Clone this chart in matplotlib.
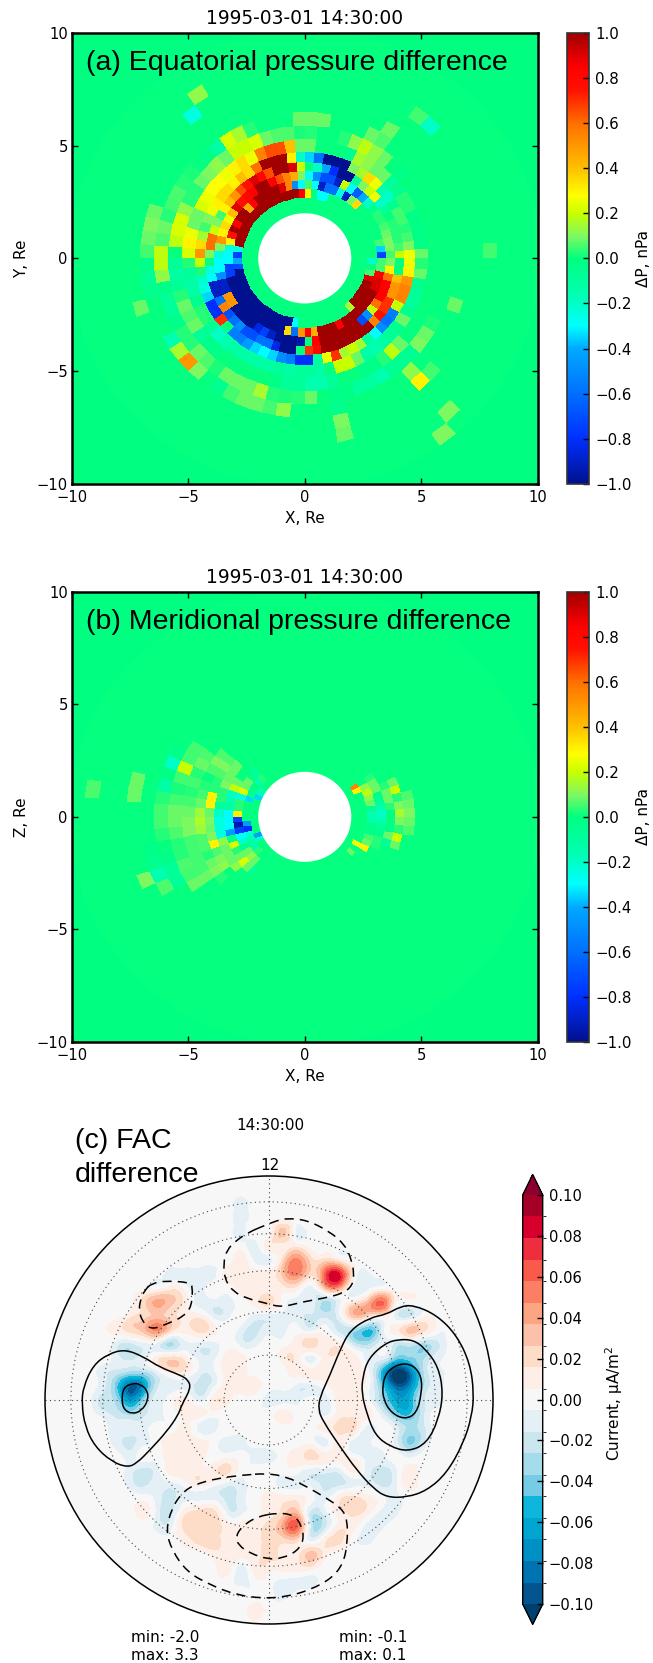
import numpy as np
import matplotlib
matplotlib.use('Agg')
import matplotlib.pyplot as plt
from matplotlib.colors import LinearSegmentedColormap, ListedColormap, BoundaryNorm, Normalize
from matplotlib.patches import Circle, PathPatch
from matplotlib.path import Path
from matplotlib.tri import Triangulation, UniformTriRefiner

W, H = 653, 1663
plt.rcParams['font.family'] = ['DejaVu Sans']
plt.rcParams['mathtext.default'] = 'regular'

stamp = '1995-03-01 14:30:00'
ticks_xy = [-10, -5, 0, 5, 10]
ticks_dp = [1.0, 0.8, 0.6, 0.4, 0.2, 0.0, -0.2, -0.4, -0.6, -0.8, -1.0]
ticks_fac = [0.10, 0.08, 0.06, 0.04, 0.02, 0.00, -0.02, -0.04, -0.06, -0.08, -0.10]

# radial bin edges in Re, sectors are 5 deg wide, angle from +X counter clockwise
r_edges = [2.0, 2.35, 2.7, 3.1, 3.5, 3.9, 4.3, 4.75, 5.3, 5.9, 6.5, 7.1, 7.7, 8.3, 8.9, 9.5, 10.1]

# (a) each ring: (first sector angle, [values of consecutive sectors]), nPa
eq_ring0 = [(70, [-.3, -.3, 0, .3, .85] + [1] * 15 + [-.25, -.75, -.4, -.7] + [-1] * 14 + [-.3]),
            (310, [.15] + [1] * 5 + [.9, .05, 0, -.2])]
eq_ring1 = [(0, [-.75, -.35, .05, 0, 0, 0, 0, 0, 0, .35, .1, -.9, -.25, -.6, -.6, -.9, -.3, .05, -.3, -.5,
                 .55, .9, 1, 1, 1, 1, .85, .45, 1, 1, .85, 1, .75, .3, -.25, -.3, -.3, -.75, -.75]
             + [-1] * 12 + [.35, -.6, .5, .85, .45, 1, 1, 1, .85] + [1] * 7 + [.9, .9, .85, .05, .05])]
eq_ring2 = [(0, [.05, .1, .1, .08, .05, .03, .03, -.05, -.2, -.4, -.65, -.3, .2, -.9, -.7, -.7, -.5, -.3, .1, .45,
                 .55, .65, .85, 1, 1, .85, .8, .75, .9, .4, .25, .35, .3, .5, .1, -.25, -.3, -.3, -.5, -.9, -.9,
                 .5, .5, -1, -1, -1, -1, -.85, -.75, -.9, -1, -1, -1, -.95, 0, .85, 1, 1, 1, 1, 1, 1, -.7, -.5,
                 .2, .6, .85, .85, .85, .6, .3, .1])]
eq_ring3 = [(0, [.2, .05, .03, .03, .03, 0, -.1, -.2, .25, .2, .1, -.1, -1, -1, -.8, -.4, -.2, 0, .2, .9, 1, 1,
                 .65, .8, .9, .75, .65, .5, .4, .3, .05, .1, .2, .6, .6, .1, 0, -.25, -.3, -.9, -.9, -.6, .55,
                 -.7, -.6, -.5, -.7, -.7, -.6, -.6, -.85, -1, -1, 0, .7, .8, 1, 1, 1, 1, 1, 1, 1, .55, .75, .7, .7,
                 .5, .5, .4])]
eq_ring4 = [(0, [.25, .1, .05, .03, .05, .05, -.05, -.2, -.15, .25, .35, .15, .1, -1, -1, -1, -.6, -.35, -.2, .3,
                 1, 1, 1, .6, .35, .4, .3, .35, .35, .3, .25, .1, .05, .15, .35, .5, .2, .02, -.2, -.25, -.35,
                 -.8, -.8, .7, .0, -.55, -.55, -.45, -.35, -.3, -.35, -.5, -.55, -.8, -.8, -.1, .25, .7, .15, .2,
                 .15, -.1, -.3, -.5, -.6, -.55, .2, .55, .55, .5, .3, .25])]
eq_ring5 = [(0, [.08, -.02, -.02, -.02, -.02, .03, .03, -.05, -.08, .08, .08, .12, .15, -.05, 0, 0, 0, .08, .08, .4,
                 .65, .65, .55, .25, .35, .3, .25, .28, .28, .25, .22, .08, .08, .25, .3, .22, .03, -.08, -.12, -.12,
                 -.05, .03, .03, -.08, -.2, -.15, -.12, -.12, -.12, -.12, -.12, -.08, -.12, -.08, -.08, -.12, 0, .2, .2,
                 .08, -.12, -.15, -.12, -.08, -.05, .08, -.05, -.08, -.08, -.05, .08, .03])]
eq_ring6 = [(40, [-.02, 0, .08, .12, .18, .12, .03, 0, 0, .03, .02, .06, .06, .08, .22, .2, .2, .08, .12, .1, .08,
                  .03, .03, .12, .22, .22, .18, 0, -.08, -.12, -.08, .03, .08, .06, .08, -.08, -.03, -.03, 0, 0, 0, 0, 0,
                  -.03, -.08, -.08, -.15, -.15, -.08, 0, 0, -.03, -.03, .03, .18, .08])]
eq_ring7 = [(55, [.06, .08, 0, 0, 0, .08, .08, .08, 0, 0, 0, .03, .15, .22, -.12, -.03, 0, .02, .03, .06, .05, .03, .08,
                  .06, .18, .18, .12, -.03, -.08, -.08, -.03, .03, .03, .08, .06, .02, .08, .08, .08, .15, .03, .02, .03,
                  .08, 0, -.03, -.03, -.1, -.1, -.15, -.06, -.06, -.06, .1, .08, .02])]
eq_ring8 = [(55, [.08]), (160, [.08, .1, .08, .05, -.03, -.06, -.05, 0, 0, 0, -.15, .15, .5, .1, 0, -.05, .05, .08, .08, .05, .12,
                  0, 0, 0, -.05]), (310, [.12]), (340, [.08])]
eq_ring9 = [(195, [.08]), (280, [.1]), (310, [.3, .05])]
eq_ring10 = [(45, [-.2, .05]), (125, [-.25]), (280, [.08]), (0, [.05])]
eq_ring11 = [(120, [.12])]
eq_ring12 = [(310, [.1])]
eq_ring13 = [(305, [.1])]
eq_rings = [[], [], eq_ring0, eq_ring1, eq_ring2, eq_ring3, eq_ring4, eq_ring5, eq_ring6, eq_ring7, eq_ring8,
            eq_ring9, eq_ring10, eq_ring11, eq_ring12, eq_ring13]

# (b) same format, X-Z plane
mer_in0 = [(145, [-.15, -.15, -.35]), (200, [-.45, -.2])]
mer_in1 = [(30, [.55]), (25, [.3]), (135, [.03, -.15, 0, -.05, -.05, -.35]), (185, [-.45, -.8, -.25, -.15, -.12, -.12, .03]),
           (320, [.08, 0, .25])]
mer_ring0 = [(135, [-.08, -.05, .08, .08, .22, -.25, .03, .03, .3, -.75, -.95, -.75, -.3, -.2, -.05, .08, .12, .08]),
             (330, [.3, .08, .05, -.03, -.03, -.15, -.15, -.08, .08, .12, .18, .12])]
mer_ring1 = [(150, [.08, .18, -.2, -.15, -.12, -.3, -.3, -.3, -.45, -.05, .22, .03, .08, .22, .08, -.08]),
             (335, [.03, .03, -.03, -.08, -.15, -.2, -.15, -.08, -.03, .08, .08, .03])]
mer_ring2 = [(140, [.08, .08, .08, .1, .03, .03, -.08, -.2, -.25, -.25, -.25, .12, .08, .08, .08, .12]),
             (340, [-.08, .08, -.03, 0, -.03, .03, .08, .08, .03])]
mer_ring3 = [(140, [.06, .1, .06, .03, .03, .3, .3, .08, .1, .08, .1, .3, .06, .1, .12]),
             (340, [.08, .2, .03, .1, .15, .1, .03, .2, .08])]
mer_ring4 = [(140, [.06, .1, .06, 0, .03, .05, .08, .14, .16, .14, .06, .06, .03, .08, .1, .03]),
             (350, [.06, .08, .1, .08, .06])]
mer_ring5 = [(145, [.06, .08, .03, .05, .03, .05, .08, .1, .1, .05, .05, .05, .05, .08])]
mer_ring6 = [(145, [.05, .05, .2, .05, .02, .05, .08, .08, .06, .03, .03, .06, .05, .08])]
mer_ring7 = [(150, [-.03, -.2, -.02, -.12, .03, .05, .05, .03, 0, -.03, -.08, -.08])]
mer_ring8 = [(190, [-.02, -.05, -.15, .06])]
mer_ring9 = [(165, [.08, .08]), (200, [.1])]
mer_ring12 = [(170, [.06])]
mer_rings = [mer_in0, mer_in1, mer_ring0, mer_ring1, mer_ring2, mer_ring3, mer_ring4, mer_ring5, mer_ring6, mer_ring7,
             mer_ring8, mer_ring9, [], [], mer_ring12, []]

# (c) FAC difference read on a unit grid, rows are (row, first column, [values in 0.01 uA/m2])
fac_rows = [
    (14, -2, [-1]),
    (13, -2, [-1]),
    (12, -2, [-1, 0, 0, 3, -1]),
    (11, -1, [-1, 1, 1, 1]),
    (10, -2, [1, -1, -1, 2, 5, 2, 2, 1]),
    (9, -7, [-1, -1, -1, -1, 1, 1, 1, 1, 3, 5, 2, 6, 8, 1, -1]),
    (8, -7, [1, 0, -1, 0, 0, 1, 1, 1, 1, 1, -1, 3, 4, -1, -1]),
    (7, -9, [2, 4, 3, 1, -1, -1, -1, 0, 1, 2, 0, -1, -1, -3, -1, 1, 3, 6, 1]),
    (6, -10, [1, 2, 3, 2, 1, 1, -1, -1, 0, -1, -1, -1, -1, -2, -2, -1, 3, 2, 1, -1, -2]),
    (5, -11, [1, 2, 3, 5, 2, 1, 2, 1, 0, -1, -2, -1, -1, 0, -1, 0, -2, -3, -5, -2, 1, 3, 2]),
    (4, -11, [-1, -2, -1, -1, -3, -1, -1, -1, 0, -1, -1, 0, 0, 1, 2, 1, 1, -2, -3, -1, -2, -2, -3, -2]),
    (3, -11, [-1, -2, -1, 1, 2, 1, -1, -1, 1, 1, 0, 0, 1, 1, -1, 1, 1, 1, -1, -1, -4, -4, -3, -1]),
    (2, -12, [-1, -2, -3, -3, -1, 1, 1, -1, -1, 1, 1, 0, 0, 0, 1, 1, 1, 1, 1, 0, -5, -11, -9, -3, -1]),
    (1, -12, [-1, -4, -9, -7, -2, -1, -1, -2, -1, 1, 1, 1, 0, 0, -1, -1, 0, 1, 1, 0, -4, -9, -8, -3, -1]),
    (0, -12, [-2, -3, -7, -4, -1, 0, 1, -1, 1, 1, 0, 0, -1, -1, -1, 0, -1, 1, 1, 0, -3, -6, -6, -2, -1]),
    (-1, -12, [-1, -2, -3, -2, -1, 0, 1, 1, 0, 0, 0, 0, 0, 1, 0, 0, -1, 1, 1, 1, -1, -4, -5, -2]),
    (-2, -11, [-1, -1, -1, 0, 0, 1, -1, -1, 0, 0, 0, 0, 0, 0, 0, 1, 2, 2, -1, 0, -1, -3, -2]),
    (-3, -11, [-1, -2, -1, 0, 1, 1, 1, 0, -1, -1, 0, 0, 0, 0, 0, -1, 1, -1, -1, 0, -1, -4, -2]),
    (-4, -10, [-1, 0, 0, 1, 1, 1, 0, 0, 0, -1, -1, 0, 1, 2, 1, 1, 0, -1, -1, 0, -1]),
    (-5, -10, [-1, -2, -1, 1, 1, 1, 1, 2, 0, 0, 0, 0, 0, -1, -1, -1, 1, -1, -2, -1, 1]),
    (-6, -10, [-1, -2, -1, -1, 0, 1, 0, -1, -1, 0, 0, -1, -1, -1, -2, -2, -1, -1, -2, -1, 1]),
    (-7, -8, [-1, -2, -1, -1, -1, -2, -1, 0, 1, 1, 1, 0, -1, 1, 2, 1, 0, -1]),
    (-8, -9, [1, -1, -2, 1, 2, 2, -1, -1, 0, 1, 2, 3, -2, -1, 1, 2, 1, -1, -1]),
    (-9, -8, [-1, -1, 2, 2, 2, 1, 1, 1, 2, 4, 6, -2, -2, 1, 1, -1, -1]),
    (-10, -6, [1, 2, 2, 1, 1, 1, 2, 2, 2, -1, 1, 2, 0, -1]),
    (-11, -4, [1, 1, 1, 1, 2, 1, 1, 3, 1]),
    (-12, -3, [1, -1, 1, 1, 1, 1, 1]),
    (-13, -2, [-1, 0, 0, -1, -1, -1]),
    (-14, 1, [-1]),
    (-15, -1, [1]),
]

# contour lines in the same grid units
line_left_out_x = [-10.29, -11.48, -12.55, -13.26, -13.38, -13.14, -12.43, -11.24, -10.12, -9.45, -8.5, -7.31, -6.48, -6.24, -5.59, -5.76, -6.36, -7.79, -8.98]
line_left_out_y = [3.62, 3.29, 2.5, .95, -.24, -1.9, -3.33, -4.4, -4.81, -4.52, -3.57, -2.26, -1.07, -.36, .83, 1.43, 1.79, 2.33, 3.1]
line_left_in_x = [-9.74, -10.4, -10.52, -10.36, -9.74, -9.09, -8.62, -8.69, -9.21]
line_left_in_y = [1.19, .9, 0, -.71, -1, -.76, 0, .71, 1.14]
line_right_out_x = [10.31, 9.36, 8.4, 7.21, 5.79, 5.07, 4.36, 3.64, 3.52, 3.88, 5.07, 6.26, 7.45, 8.4, 9.83, 11.26, 12.69, 13.88, 14.48, 14.64, 14.36, 13.4, 11.98]
line_right_out_y = [6.79, 6.67, 6.12, 5.88, 5, 3.57, 1.79, .24, -.71, -1.55, -3.33, -5, -6.31, -6.95, -6.95, -6.48, -5.24, -3.1, -1.19, .48, 2.62, 4.64, 6.07]
line_right_mid_x = [9.24, 8.29, 7.1, 6.69, 6.62, 6.98, 7.57, 8.64, 9.95, 11.26, 12.1, 12.45, 12.1, 11.14, 10.31]
line_right_mid_y = [4.33, 4.05, 2.98, 1.67, .48, -.95, -2.5, -3.33, -3.69, -3.1, -1.43, .48, 2.38, 3.69, 4.29]
line_right_in_x = [9.36, 8.4, 8.1, 8.17, 8.76, 9.71, 10.55, 10.9, 10.9, 10.31]
line_right_in_y = [2.62, 2.02, 1.07, 0, -.95, -1.38, -.95, .48, 1.67, 2.5]
dash_top_x = [-.52, .55, 1.26, 2.69, 4.36, 5.43, 5.9, 6.07, 5.98, 5.31, 3.88, 2.45, .9, -.17, -1.6, -2.55, -3.14, -3.26, -3.02, -2.31, -1.36]
dash_top_y = [12.38, 12.81, 12.98, 12.86, 12.02, 11.07, 10, 9.05, 8.21, 7.62, 7.26, 7.02, 6.62, 6.9, 7.26, 7.74, 8.57, 9.76, 10.71, 11.43, 12.02]
dash_left_x = [-8.38, -7.31, -5.76, -5.45, -5.52, -6.12, -7.19, -8.26, -8.86, -9.29, -9.21, -8.86]
dash_left_y = [8.33, 8.52, 8.4, 8.21, 6.67, 5.95, 5.48, 5.05, 5.36, 6.19, 7.14, 7.86]
dash_bot_out_x = [-.17, 1.26, 2.69, 4.12, 5.19, 5.6, 5.6, 5.31, 4.48, 2.93, 1.26, -.4, -2.31, -4.21, -5.88, -6.95, -7.36, -6.95, -6.24, -5.4, -3.74, -1.83]
dash_bot_out_y = [-5.24, -5.48, -6.19, -7.02, -7.74, -8.57, -10.24, -11.67, -12.74, -13.57, -14.05, -14.17, -13.93, -13.21, -12.26, -10.71, -9.29, -7.74, -6.67, -6.07, -5.6, -5.36]
dash_bot_in_x = [.67, 1.74, 2.33, 2.5, 1.98, .9, -.05, -1.36, -2.19, -2.38, -1.95, -.88]
dash_bot_in_y = [-8.05, -8.21, -8.93, -10, -10.83, -11.31, -11.38, -10.95, -10.36, -9.76, -9.05, -8.33]

dp_colors = [(0.0, '#00108f'), (0.1, '#0030ff'), (0.2, '#0070ff'), (0.3, '#00aaff'), (0.35, '#00ffff'),
             (0.42, '#00ffb0'), (0.5, '#00ff80'), (0.525, '#40fb70'), (0.55, '#80f860'), (0.6, '#c8ff00'),
             (0.64, '#ffff00'), (0.7, '#ffc000'), (0.8, '#ff7000'), (0.875, '#ff1000'), (0.925, '#ff0000'), (1.0, '#a00000')]
fac_colors = ['#04548f', '#0074b0', '#0090c4', '#00a5d0', '#0fb6dc', '#75cce4', '#a5dcec', '#cce6ef', '#e4f0f5',
              '#f7f7f7', '#fdeee8', '#fddcc8', '#fdc0a8', '#fca583', '#fb7f64', '#fa5a4c', '#ee2e3e', '#d7002d', '#a50026']


def px_axes(fig, left, top, right, bottom):
    return fig.add_axes([left / W, 1 - bottom / H, (right - left) / W, (bottom - top) / H])


def ring_grid(rings):
    z = np.zeros((len(r_edges) - 1, 72))
    for n, ring in enumerate(rings):
        for start, vals in ring:
            for k, v in enumerate(vals):
                z[n, (start // 5 + k) % 72] = v
    return z


def pressure_panel(fig, top, bottom, rings, label, ylab, note):
    ax = px_axes(fig, 72, top, 537.5, bottom)
    cmap = LinearSegmentedColormap.from_list('dp', dp_colors, N=256)
    norm = Normalize(-1, 1)
    ax.set_facecolor('#00ff80')
    th = np.radians(np.arange(0, 365, 5))
    rr = np.array(r_edges)
    X = np.outer(rr, np.cos(th))
    Y = np.outer(rr, np.sin(th))
    mesh = ax.pcolormesh(X, Y, ring_grid(rings), cmap=cmap, norm=norm, shading='flat', antialiased=False, linewidth=0)
    ax.add_patch(Circle((0, 0), 2.0, fc='white', ec='none', zorder=3))
    ax.set_xlim(-10, 10)
    ax.set_ylim(-10, 10)
    ax.set_xticks(ticks_xy)
    ax.set_xticklabels(['\u2212%d' % abs(t) if t < 0 else '%d' % t for t in ticks_xy], fontsize=10.6)
    ax.set_yticks(ticks_xy)
    ax.set_yticklabels(['\u2212%d' % abs(t) if t < 0 else '%d' % t for t in ticks_xy], fontsize=10.6)
    ax.tick_params(direction='in', top=True, right=True, length=4, width=1)
    ax.tick_params(axis='x', pad=4)
    ax.tick_params(axis='y', pad=3)
    for s in ax.spines.values():
        s.set_linewidth(1.8)
    ax.set_title(stamp, fontsize=13.4, pad=6)
    ax.set_xlabel('X, Re', fontsize=11)
    ax.xaxis.set_label_coords(0.5, -27.0 / (bottom - top))
    ax.set_ylabel(ylab, fontsize=11)
    ax.yaxis.set_label_coords(-43.0 / 465.5, 0.5)
    fig.text(86 / W, 1 - (top + 37) / H, note, family='Liberation Sans', fontsize=20.5, color='k', va='baseline')

    cax = px_axes(fig, 566.7, top, 589, bottom)
    cb = fig.colorbar(mesh, cax=cax, ticks=ticks_dp)
    cb.ax.set_yticklabels(['%.1f' % t if t >= 0 else '\u2212%.1f' % abs(t) for t in ticks_dp], fontsize=10.8)
    cb.ax.tick_params(direction='in', length=4, width=1, pad=4.5, right=True, color='k')
    cb.outline.set_linewidth(1.2)
    cb.outline.set_edgecolor('#333333')
    fig.text(643 / W, 1 - (top + bottom) / 2 / H, label, rotation=90, ha='center', va='center', fontsize=11)
    return ax


def smooth_loop(xs, ys):
    # closed quadratic path through the midpoints of the read points
    pts = np.column_stack([xs, ys])
    mids = (pts + np.roll(pts, -1, axis=0)) / 2
    verts = [mids[-1]]
    codes = [Path.MOVETO]
    for p, m in zip(pts, mids):
        verts += [p, m]
        codes += [Path.CURVE3, Path.CURVE3]
    return Path(verts, codes)


def fac_panel(fig):
    cx, cy, u = 269, 1400, 14.0
    ax = px_axes(fig, cx - 16 * u, cy - 16 * u, cx + 16 * u, cy + 16 * u)
    ax.set_xlim(-16, 16)
    ax.set_ylim(-16, 16)
    ax.axis('off')

    disc = Circle((0, 0), 16, fc='#f7f7f7', ec='none', zorder=0)
    ax.add_patch(disc)
    vals = np.arange(-16, 17)
    gx, gy = np.meshgrid(vals, vals)
    field = np.zeros_like(gx, dtype=float)
    for row, first, rowvals in fac_rows:
        for k, v in enumerate(rowvals):
            field[row + 16, first + k + 16] = v / 100.0
    tri = Triangulation(gx.ravel(), gy.ravel())
    fine, zfine = UniformTriRefiner(tri).refine_field(field.ravel(), subdiv=3)
    levels = np.linspace(-0.1, 0.1, 20)
    cmap = ListedColormap(fac_colors)
    cmap.set_under('#00406f')
    cmap.set_over('#8e0030')
    norm = BoundaryNorm(levels, cmap.N)
    cf = ax.tricontourf(fine, zfine, levels=levels, cmap=cmap, norm=norm, extend='both', zorder=1)
    cf.set_clip_path(disc)

    sin60 = np.sin(np.radians(60))
    for colat in [10, 20, 30, 40, 50]:
        ax.add_patch(Circle((0, 0), 16 * np.sin(np.radians(colat)) / sin60, fc='none', ec='#444444', ls=(0, (1, 3)), lw=.8, zorder=2))
    ax.plot([-16, 16], [0, 0], color='#444444', ls=(0, (1, 3)), lw=.8, zorder=2)
    ax.plot([0, 0], [-16, 16], color='#444444', ls=(0, (1, 3)), lw=.8, zorder=2)

    solid = [(line_left_out_x, line_left_out_y), (line_left_in_x, line_left_in_y), (line_right_out_x, line_right_out_y),
             (line_right_mid_x, line_right_mid_y), (line_right_in_x, line_right_in_y)]
    dashed = [(dash_top_x, dash_top_y), (dash_left_x, dash_left_y), (dash_bot_out_x, dash_bot_out_y), (dash_bot_in_x, dash_bot_in_y)]
    for xs, ys in solid:
        ax.add_patch(PathPatch(smooth_loop(xs, ys), fc='none', ec='k', lw=1.1, zorder=3))
    for xs, ys in dashed:
        ax.add_patch(PathPatch(smooth_loop(xs, ys), fc='none', ec='k', lw=1.1, ls=(0, (6, 4)), zorder=3))
    ax.add_patch(Circle((0, 0), 16, fc='none', ec='k', lw=1.1, zorder=4, clip_on=False))

    fig.text(75 / W, 1 - 1148 / H, '(c) FAC', family='Liberation Sans', fontsize=20.5)
    fig.text(75 / W, 1 - 1182 / H, 'difference', family='Liberation Sans', fontsize=20.5)
    fig.text(270 / W, 1 - 1125 / H, '14:30:00', ha='center', va='center', fontsize=11)
    fig.text(270 / W, 1 - 1165 / H, '12', ha='center', va='center', fontsize=11)
    fig.text(165 / W, 1 - 1638 / H, 'min: -2.0', ha='center', va='center', fontsize=11)
    fig.text(165 / W, 1 - 1655 / H, 'max: 3.3', ha='center', va='center', fontsize=11)
    fig.text(373 / W, 1 - 1638 / H, 'min: -0.1', ha='center', va='center', fontsize=11)
    fig.text(373 / W, 1 - 1655 / H, 'max: 0.1', ha='center', va='center', fontsize=11)

    # the extend triangles live inside the colorbar axes
    cax = px_axes(fig, 522.7, 1174.5, 542.7, 1624.5)
    cb = fig.colorbar(cf, cax=cax, ticks=ticks_fac, extend='both', extendfrac=0.05, drawedges=False)
    cb.ax.set_yticklabels(['%.2f' % t if t >= 0 else '\u2212%.2f' % abs(t) for t in ticks_fac], fontsize=10.6)
    cb.ax.tick_params(direction='in', length=4, width=1, pad=4.5, right=True, color='k')
    cb.outline.set_linewidth(1.0)
    fig.text(614 / W, 1 - 1403 / H, 'Current, \u03bcA/m$^2$', rotation=90, ha='center', va='center', fontsize=11)


if __name__ == '__main__':
    fig = plt.figure(figsize=(W / 100, H / 100), dpi=100)
    pressure_panel(fig, 32.7, 484, eq_rings, '\u0394P, nPa', 'Y, Re', '(a) Equatorial pressure difference')
    pressure_panel(fig, 591.7, 1042, mer_rings, '\u0394P, nPa', 'Z, Re', '(b) Meridional pressure difference')
    fac_panel(fig)
    fig.savefig('out.png', dpi=100)
